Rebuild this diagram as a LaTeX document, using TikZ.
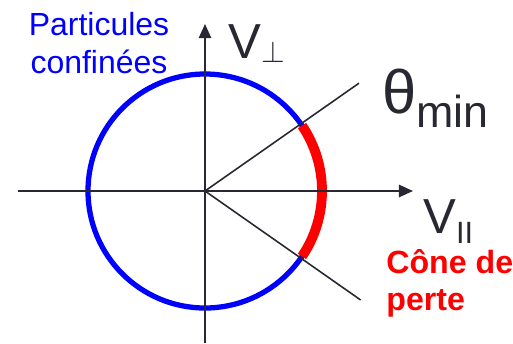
\documentclass[tikz,border=0pt]{standalone}
\usepackage{fontspec}
\setmainfont{Liberation Sans}
\usetikzlibrary{arrows.meta}
\definecolor{axisgray}{RGB}{40,40,50}

\begin{document}
\begin{tikzpicture}[x=0.02cm,y=0.02cm]
    \pgfmathsetmacro{\rad}{117}
    \pgfmathsetmacro{\thmin}{34}
    \useasboundingbox (-205,-152) rectangle (308,191);
    \coordinate (O) at (0,0);
    \coordinate (Xa) at (-187,0);
    \coordinate (Xb) at (208,0);
    \coordinate (Ya) at (0,-152);
    \coordinate (Yb) at (0,167);
    \coordinate (Cu) at (35:188);
    \coordinate (Cd) at (-35:190);

    \draw[blue,line width=3pt] (O) circle (\rad);
    \draw[red,line width=5.6pt] (-\thmin:\rad) arc[start angle=-\thmin,end angle=\thmin,radius=\rad];

    \draw[axisgray,line width=1.1pt,-{Triangle[length=8pt,width=7pt]}] (Xa) -- (Xb);
    \draw[axisgray,line width=1.1pt,-{Triangle[length=8pt,width=7pt]}] (Ya) -- (Yb);
    \draw[axisgray,line width=0.9pt] (O) -- (Cu);
    \draw[axisgray,line width=0.9pt] (O) -- (Cd);

    \node[blue,align=center,inner sep=0pt,anchor=north,font=\fontsize{18.2}{21.6}\selectfont] (conf) at (-106,179) {Particules\\confinées};
    \node[axisgray,inner sep=0pt,anchor=base west,font=\fontsize{28}{30}\selectfont] (vperp) at (23,133) {V\raisebox{-2.3pt}{\fontsize{17}{18}\selectfont$\perp$}};
    \node[axisgray,inner sep=0pt,anchor=base west,font=\fontsize{35}{40}\selectfont] (thmin) at (177,78) {θ\fontsize{25.5}{30}\selectfont\raisebox{-8.5pt}{min}};
    \node[axisgray,inner sep=0pt,anchor=base west,font=\fontsize{28}{30}\selectfont] (vpar) at (218,-42) {V\fontsize{17.5}{20}\selectfont\raisebox{-6pt}{II}};
    \node[red,align=left,inner sep=0pt,anchor=base west,font=\bfseries\fontsize{18.3}{21}\selectfont] (cone) at (181,-119) {Cône de\\perte};
\end{tikzpicture}
\end{document}
